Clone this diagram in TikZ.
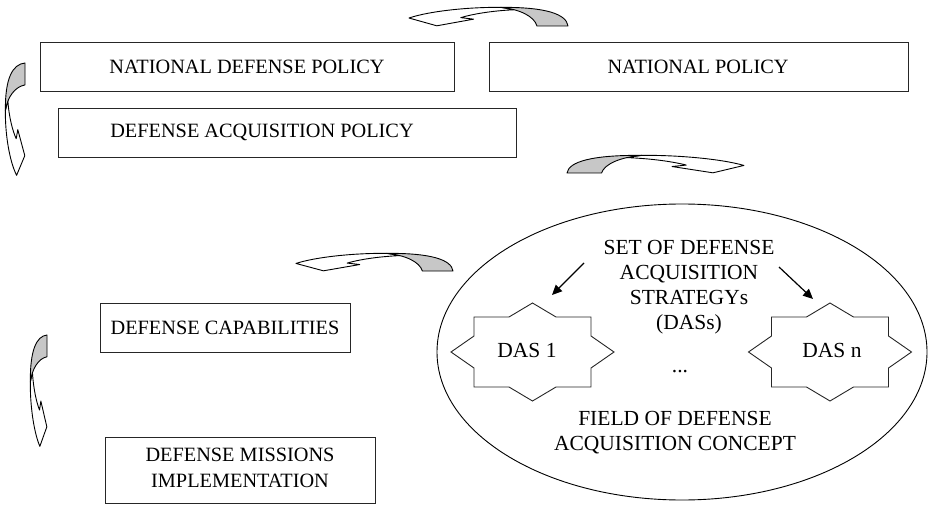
\documentclass[tikz,border=0pt]{standalone}
\usepackage{fontspec}
\setmainfont{Liberation Serif}
\usetikzlibrary{arrows.meta,calc,shapes.geometric}
\tikzset{
 box/.style={draw=black!85, line width=0.9pt, inner sep=0pt},
 txt/.style={font=\fontsize{20.3}{26}\selectfont, align=center, inner sep=0pt},
 btxt/.style={font=\fontsize{21.5}{24.8}\selectfont, align=center, inner sep=0pt},
 carrow/.style={draw=black, line width=0.9pt, line join=round},
 arr/.style={-{Triangle[length=10pt,width=9pt]}, line width=1.2pt},
 starline/.style={draw=black!85, line width=0.9pt, line join=miter},
}
\newcommand\curvedband{%
 \filldraw[carrow, fill=white] (0.58,0.98) .. controls (0.39,1) and (0.14,0.8) .. (0.006,0.42) -- (0.18,0.01) -- (0.41,0.36) -- (0.33,0.44) .. controls (0.4,0.62) and (0.52,0.8) .. (0.664,0.855) -- cycle;
 \filldraw[carrow, fill=black!22] (1,0) .. controls (0.99,0.63) and (0.86,1) .. (0.58,0.98) .. controls (0.7,0.88) and (0.79,0.5) .. (0.806,0) -- cycle;
}
\newcommand\dasstar[1]{%
 \draw[starline, shift={(#1.center)}] (-58.5,-35) -- (-23.5,-35) -- (0,-49) -- (23.5,-35) -- (58.5,-35) -- (58.5,-16) -- (81.5,0) -- (58.5,16) -- (58.5,35) -- (23.5,35) -- (0,49) -- (-23.5,35) -- (-58.5,35) -- (-58.5,16) -- (-81.5,0) -- (-58.5,-16) -- cycle;
}
\begin{document}
\begin{tikzpicture}[x=1pt,y=-1pt]
\useasboundingbox (0,0) rectangle (928,505);

% boxes
\node[box, minimum width=414pt, minimum height=49pt] (ndp) at (247,66.5) {};
\node[txt] (ndpt) at (247,66.5) {NATIONAL DEFENSE POLICY};
\node[box, minimum width=419pt, minimum height=49pt] (np) at (698.5,66.5) {};
\node[txt] (npt) at (698,66.5) {NATIONAL POLICY};
\node[box, minimum width=458pt, minimum height=49pt] (dap) at (287,132.5) {};
\node[txt] (dapt) at (262,132.5) {DEFENSE ACQUISITION POLICY};
\node[box, minimum width=250pt, minimum height=49pt] (dc) at (225,327.5) {};
\node[txt] (dct) at (225,327.5) {DEFENSE CAPABILITIES};
\node[box, minimum width=270pt, minimum height=66pt] (dmi) at (240,470) {};
\node[txt] (dmit) at (240,468) {DEFENSE MISSIONS\\IMPLEMENTATION};

% field ellipse
\node[draw=black, line width=0.9pt, ellipse, minimum width=490pt, minimum height=296pt, inner sep=0pt] (field) at (682,352) {};
\node[btxt] (set) at (689,287) {SET OF DEFENSE\\ACQUISITION\\STRATEGYs\\(DASs)};
\node[btxt] (fld) at (675,433) {FIELD OF DEFENSE\\ACQUISITION CONCEPT};
\node[btxt] (dots) at (680,372) {...};

% DAS stars
\node[btxt] (das1) at (527,350) {DAS 1};
\coordinate (s1) at (532.5,352);
\dasstar{s1}
\node[btxt] (dasn) at (832,350) {DAS n};
\coordinate (sn) at (830,352);
\dasstar{sn}

% arrows inside ellipse
\coordinate (a1s) at (584,263);
\coordinate (a1e) at (552,295);
\coordinate (a2s) at (779,267);
\coordinate (a2e) at (813,299);
\draw[arr] (a1s) -- (a1e);
\draw[arr] (a2s) -- (a2e);

% curved block arrows
\begin{scope}[shift={(408,26)}, x={(160pt,0pt)}, y={(0pt,19pt)}]
 \curvedband
\end{scope}
\begin{scope}[shift={(745,173)}, x={(-178pt,0pt)}, y={(0pt,18pt)}]
 \curvedband
\end{scope}
\begin{scope}[shift={(295,271)}, x={(158pt,0pt)}, y={(0pt,18pt)}]
 \curvedband
\end{scope}
\begin{scope}[shift={(25,176)}, x={(0pt,113pt)}, y={(-20pt,0pt)}]
 \curvedband
\end{scope}
\begin{scope}[shift={(47,447)}, x={(0pt,112pt)}, y={(-17pt,0pt)}]
 \curvedband
\end{scope}
\end{tikzpicture}
\end{document}
